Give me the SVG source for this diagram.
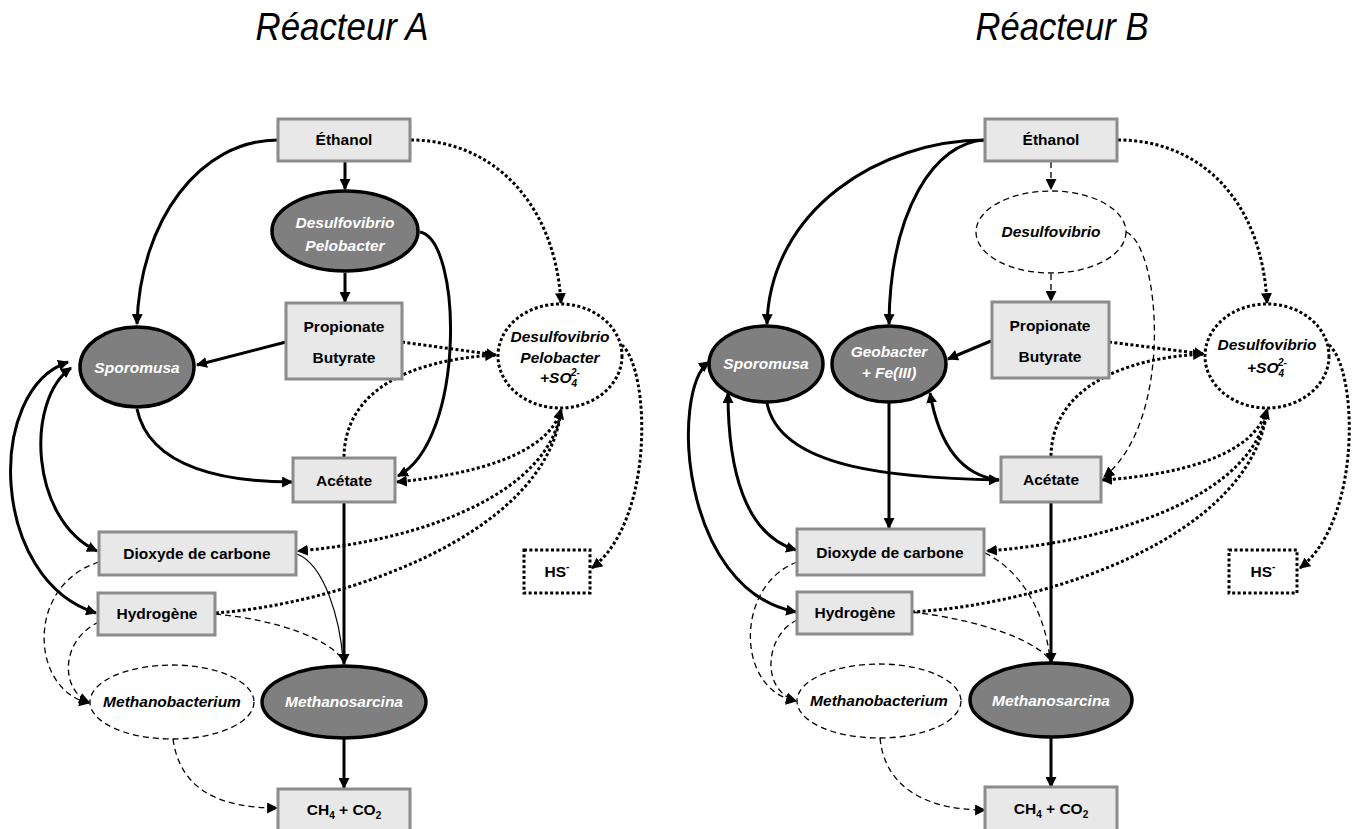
<svg xmlns="http://www.w3.org/2000/svg" width="1362" height="829" viewBox="0 0 1362 829">
  <style>
    text { font-family: "Liberation Sans", Arial, sans-serif; font-size: 15.5px; font-weight: bold; text-anchor: middle; fill: #000; }
    .title { font-size: 38px; font-weight: normal; font-style: italic; }
    .it { font-style: italic; }
    .wt { fill: #fff; font-style: italic; }
    .sub { font-size: 10px; }
    .box { fill: #e8e8e8; stroke: #8c8c8c; stroke-width: 3; }
    .dark { fill: #7f7f7f; stroke: #000; stroke-width: 3.5; }
    .dashnode { fill: #fff; stroke: #000; stroke-width: 1.3; stroke-dasharray: 6 4; }
    .dotnode { fill: #fff; stroke: #000; stroke-width: 3; stroke-dasharray: 3 2.4; }
    .c { fill: none; stroke: #000; }
    .solid { stroke-width: 3; }
    .thin { stroke-width: 1.2; }
    .dot { stroke-width: 3; stroke-dasharray: 3 2.4; }
    .dash { stroke-width: 1.3; stroke-dasharray: 6 4; }
  </style>
  <defs>
    <marker id="ah" viewBox="0 0 10 10" refX="9" refY="5" markerWidth="11" markerHeight="11" markerUnits="userSpaceOnUse" orient="auto-start-reverse">
      <path d="M0,0 L10,5 L0,10 Z" fill="#000"/>
    </marker>
  </defs>

  <rect width="1362" height="829" fill="#fff"/>

  <text class="title" x="342" y="40" textLength="173" lengthAdjust="spacingAndGlyphs">Réacteur A</text>
  <text class="title" x="1062" y="40" textLength="173" lengthAdjust="spacingAndGlyphs">Réacteur B</text>

  <!-- connectors -->
  <g id="connectors">
    <!-- reactor A -->
    <path class="c solid" d="M278,140 C200,140 140,220 137,324" marker-end="url(#ah)"/>
    <path class="c solid" d="M345,162 L345,189" marker-end="url(#ah)"/>
    <path class="c solid" d="M345,273 L345,302" marker-end="url(#ah)"/>
    <path class="c solid" d="M420,232 C462,240 466,440 398,476" marker-end="url(#ah)"/>
    <path class="c solid" d="M286,342 L197,365" marker-end="url(#ah)"/>
    <path class="c solid" d="M137,409 C150,470 230,482 292,482" marker-end="url(#ah)"/>
    <path class="c solid" d="M71,368 C25,400 30,520 97,551" marker-start="url(#ah)" marker-end="url(#ah)"/>
    <path class="c solid" d="M68,362 C-15,390 -10,580 96,613" marker-start="url(#ah)" marker-end="url(#ah)"/>
    <path class="c solid" d="M344,502 L344,664" marker-end="url(#ah)"/>
    <path class="c thin" d="M297,554 C325,565 340,620 343,660"/>
    <path class="c dot" d="M411,140 C490,140 555,200 561,303" marker-end="url(#ah)"/>
    <path class="c dot" d="M402,342 L496,355" marker-end="url(#ah)"/>
    <path class="c dot" d="M344,457 C345,390 410,360 495,355" marker-end="url(#ah)"/>
    <path class="c dot" d="M397,482 C470,475 550,455 561,409" marker-start="url(#ah)" marker-end="url(#ah)"/>
    <path class="c dot" d="M561,410 C550,490 430,540 298,551" marker-end="url(#ah)"/>
    <path class="c dot" d="M216,613 C330,605 545,540 561,411"/>
    <path class="c dot" d="M622,345 C650,370 655,520 592,568" marker-end="url(#ah)"/>
    <path class="c dash" d="M99,562 C25,585 30,690 89,703" marker-end="url(#ah)"/>
    <path class="c dash" d="M99,622 C60,640 60,690 89,702" marker-end="url(#ah)"/>
    <path class="c dash" d="M215,614 C280,620 330,640 343,660"/>
    <path class="c dash" d="M173,739 C180,790 220,808 277,808" marker-end="url(#ah)"/>
    <path class="c solid" d="M344,738 L344,788" marker-end="url(#ah)"/>

    <!-- reactor B -->
    <path class="c solid" d="M985,140 C880,140 770,210 767,324" marker-end="url(#ah)"/>
    <path class="c solid" d="M985,140 C935,142 890,210 889,324" marker-end="url(#ah)"/>
    <path class="c dash" d="M1051,162 L1051,189" marker-end="url(#ah)"/>
    <path class="c dash" d="M1051,274 L1051,301" marker-end="url(#ah)"/>
    <path class="c dash" d="M1126,232 C1160,245 1175,420 1104,477" marker-end="url(#ah)"/>
    <path class="c solid" d="M991,341 L948,359" marker-end="url(#ah)"/>
    <path class="c solid" d="M767,403 C780,470 900,478 999,480" marker-end="url(#ah)"/>
    <path class="c solid" d="M930,393 C940,450 965,476 999,480" marker-start="url(#ah)"/>
    <path class="c solid" d="M889,403 L889,528" marker-end="url(#ah)"/>
    <path class="c solid" d="M728,393 C728,470 745,535 796,550" marker-start="url(#ah)" marker-end="url(#ah)"/>
    <path class="c solid" d="M709,362 C670,390 680,590 796,612" marker-start="url(#ah)" marker-end="url(#ah)"/>
    <path class="c solid" d="M1051,502 L1051,663" marker-end="url(#ah)"/>
    <path class="c dash" d="M985,553 C1020,570 1045,610 1050,660"/>
    <path class="c dash" d="M797,562 C735,585 735,690 796,701" marker-end="url(#ah)"/>
    <path class="c dash" d="M797,620 C765,635 760,690 796,701" marker-end="url(#ah)"/>
    <path class="c dash" d="M912,612 C980,620 1035,640 1050,660"/>
    <path class="c dash" d="M880,738 C885,790 930,810 985,810" marker-end="url(#ah)"/>
    <path class="c solid" d="M1051,737 L1051,787" marker-end="url(#ah)"/>
    <path class="c dot" d="M1118,140 C1200,140 1262,200 1267,303" marker-end="url(#ah)"/>
    <path class="c dot" d="M1109,342 L1204,354" marker-end="url(#ah)"/>
    <path class="c dot" d="M1051,456 C1052,390 1120,358 1203,354" marker-end="url(#ah)"/>
    <path class="c dot" d="M1102,480 C1180,475 1255,455 1267,409" marker-start="url(#ah)" marker-end="url(#ah)"/>
    <path class="c dot" d="M1267,410 C1255,490 1130,540 987,551" marker-end="url(#ah)"/>
    <path class="c dot" d="M912,612 C1040,605 1250,540 1267,411"/>
    <path class="c dot" d="M1329,345 C1358,370 1362,520 1300,568" marker-end="url(#ah)"/>
  </g>

  <!-- reactor A nodes -->
  <g id="a-ethanol"><rect class="box" x="278" y="119" width="132" height="42"/><text x="344" y="145">Éthanol</text></g>
  <g id="a-desulfo-pelo"><ellipse class="dark" cx="345" cy="231" rx="73" ry="40"/><text class="wt" x="345" y="228">Desulfovibrio</text><text class="wt" x="345" y="251">Pelobacter</text></g>
  <g id="a-propionate"><rect class="box" x="286" y="303" width="116" height="76"/><text x="344" y="332">Propionate</text><text x="344" y="363">Butyrate</text></g>
  <g id="a-sporomusa"><ellipse class="dark" cx="137" cy="367" rx="57" ry="40"/><text class="wt" x="137" y="373">Sporomusa</text></g>
  <g id="a-srb"><ellipse class="dotnode" cx="560" cy="356" rx="62" ry="52"/><text class="it" x="560" y="342">Desulfovibrio</text><text class="it" x="560" y="363">Pelobacter</text><text class="it" x="560" y="383">+SO<tspan class="sub" dy="4">4</tspan><tspan class="sub" dx="-6" dy="-11">2-</tspan></text></g>
  <g id="a-acetate"><rect class="box" x="293" y="458" width="102" height="44"/><text x="344" y="486">Acétate</text></g>
  <g id="a-co2"><rect class="box" x="99" y="532" width="197" height="43"/><text x="197" y="559">Dioxyde de carbone</text></g>
  <g id="a-hs"><rect class="dotnode" x="524" y="550" width="66" height="43"/><text x="557" y="577">HS<tspan class="sub" dy="-7">-</tspan></text></g>
  <g id="a-h2"><rect class="box" x="98" y="593" width="117" height="42"/><text x="157" y="619">Hydrogène</text></g>
  <g id="a-methanobacterium"><ellipse class="dashnode" cx="172" cy="702" rx="82" ry="37"/><text class="it" x="172" y="707">Methanobacterium</text></g>
  <g id="a-methanosarcina"><ellipse class="dark" cx="344" cy="702" rx="82" ry="36"/><text class="wt" x="344" y="707">Methanosarcina</text></g>
  <g id="a-ch4"><rect class="box" x="278" y="789" width="132" height="44"/><text x="344" y="815">CH<tspan class="sub" dy="4">4</tspan><tspan dy="-4"> + CO</tspan><tspan class="sub" dy="4">2</tspan></text></g>

  <!-- reactor B nodes -->
  <g id="b-ethanol"><rect class="box" x="985" y="119" width="132" height="42"/><text x="1051" y="145">Éthanol</text></g>
  <g id="b-desulfo"><ellipse class="dashnode" cx="1051" cy="232" rx="75" ry="41"/><text class="it" x="1051" y="237">Desulfovibrio</text></g>
  <g id="b-propionate"><rect class="box" x="992" y="302" width="117" height="76"/><text x="1050" y="331">Propionate</text><text x="1050" y="362">Butyrate</text></g>
  <g id="b-sporomusa"><ellipse class="dark" cx="766" cy="364" rx="57" ry="38"/><text class="wt" x="766" y="369">Sporomusa</text></g>
  <g id="b-geobacter"><ellipse class="dark" cx="889" cy="364" rx="57" ry="38"/><text class="wt" x="889" y="357">Geobacter</text><text class="wt" x="889" y="378">+ Fe(III)</text></g>
  <g id="b-srb"><ellipse class="dotnode" cx="1267" cy="356" rx="62" ry="52"/><text class="it" x="1267" y="350">Desulfovibrio</text><text class="it" x="1267" y="373">+SO<tspan class="sub" dy="4">4</tspan><tspan class="sub" dx="-6" dy="-11">2-</tspan></text></g>
  <g id="b-acetate"><rect class="box" x="1001" y="457" width="100" height="45"/><text x="1051" y="485">Acétate</text></g>
  <g id="b-co2"><rect class="box" x="797" y="529" width="187" height="46"/><text x="890" y="558">Dioxyde de carbone</text></g>
  <g id="b-hs"><rect class="dotnode" x="1229" y="550" width="68" height="43"/><text x="1263" y="577">HS<tspan class="sub" dy="-7">-</tspan></text></g>
  <g id="b-h2"><rect class="box" x="797" y="592" width="115" height="42"/><text x="855" y="618">Hydrogène</text></g>
  <g id="b-methanobacterium"><ellipse class="dashnode" cx="879" cy="701" rx="82" ry="37"/><text class="it" x="879" y="706">Methanobacterium</text></g>
  <g id="b-methanosarcina"><ellipse class="dark" cx="1051" cy="700" rx="81" ry="37"/><text class="wt" x="1051" y="706">Methanosarcina</text></g>
  <g id="b-ch4"><rect class="box" x="985" y="787" width="132" height="46"/><text x="1051" y="814">CH<tspan class="sub" dy="4">4</tspan><tspan dy="-4"> + CO</tspan><tspan class="sub" dy="4">2</tspan></text></g>
</svg>
